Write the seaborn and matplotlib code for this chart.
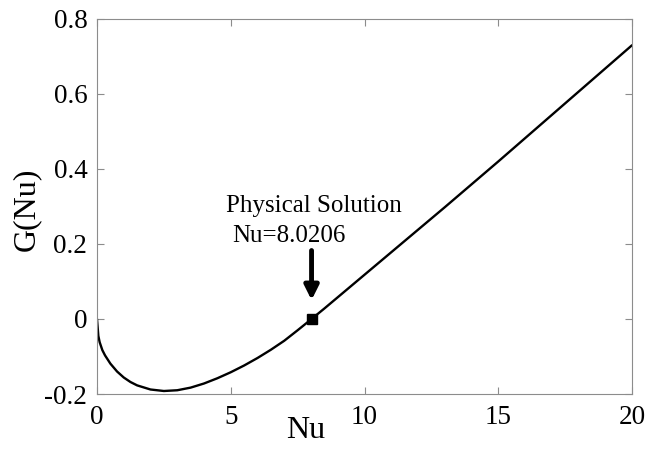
import numpy as np
import pandas as pd
import matplotlib
matplotlib.use("Agg")
import matplotlib.pyplot as plt
import seaborn as sns

# G(Nu) curve samples
nu = [0.0, 0.05, 0.1, 0.2, 0.3, 0.5, 0.75, 1.0, 1.25, 1.5, 2.0, 2.5, 3.0,
      3.5, 4.0, 4.5, 5.0, 5.5, 6.0, 6.5, 7.0, 7.5, 8.0206, 8.5, 9.0, 10.0,
      11.0, 12.0, 13.0, 14.0, 15.0, 16.0, 17.0, 18.0, 19.0, 20.0]
g = [0.0, -0.045, -0.062, -0.083, -0.097, -0.119, -0.140, -0.156, -0.168,
     -0.177, -0.188, -0.192, -0.190, -0.183, -0.172, -0.158, -0.142, -0.124,
     -0.104, -0.082, -0.058, -0.030, 0.0, 0.028, 0.058, 0.118, 0.178, 0.238,
     0.298, 0.359, 0.420, 0.482, 0.544, 0.606, 0.668, 0.730]

# physical root
root_nu = [8.0206]
root_g = [0.0]

x_ticks = [0, 5, 10, 15, 20]
y_ticks = [-0.2, 0.0, 0.2, 0.4, 0.6, 0.8]
y_tick_labels = ["-0.2", "0", "0.2", "0.4", "0.6", "0.8"]

sns.set_theme(style="white")
plt.rcParams["font.family"] = ["Liberation Serif", "DejaVu Serif"]

df = pd.DataFrame({"Nu": nu, "G": g})

fig = plt.figure(figsize=(6.52, 4.49), dpi=100)
ax = fig.add_axes([97 / 652, 1 - 394 / 449, 535 / 652, 375 / 449])

sns.lineplot(data=df, x="Nu", y="G", ax=ax, color="black", linewidth=1.7,
             sort=False)
ax.plot(root_nu, root_g, marker="s", color="black", markersize=7.5,
        linestyle="none")

ax.set_xlim(0, 20)
ax.set_ylim(-0.2, 0.8)
ax.set_xticks(x_ticks)
ax.set_xticklabels([str(t) for t in x_ticks])
ax.set_yticks(y_ticks)
ax.set_yticklabels(y_tick_labels)

for side in ["left", "right", "top", "bottom"]:
    ax.spines[side].set_visible(True)
    ax.spines[side].set_color("#8c8c8c")
    ax.spines[side].set_linewidth(0.8)

ax.tick_params(axis="both", which="major", direction="in", length=5,
               width=0.8, color="#8c8c8c", labelsize=19.5, labelcolor="black",
               top=True, right=True, bottom=True, left=True)
ax.tick_params(axis="x", pad=8)
ax.tick_params(axis="y", pad=7)

ax.set_xlabel("Nu", fontsize=23, color="black")
ax.set_ylabel("G(Nu)", fontsize=23, color="black")
ax.xaxis.set_label_coords(0.39, -0.058)
ax.yaxis.set_label_coords(-0.105, 0.493)

ax.text(8.09, 0.302, "Physical Solution", fontsize=18, ha="center",
        va="center", color="black")
ax.text(5.05, 0.222, "Nu=8.0206", fontsize=18, ha="left", va="center",
        color="black")
ax.annotate("", xy=(root_nu[0], 0.043), xytext=(root_nu[0], 0.19),
            arrowprops=dict(arrowstyle="-|>,head_width=0.35,head_length=0.7",
                            color="black", linewidth=3.5))

fig.savefig("out.png", dpi=100)
